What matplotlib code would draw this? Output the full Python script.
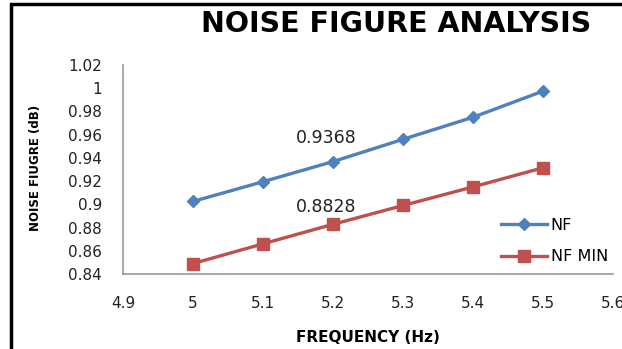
import matplotlib
matplotlib.use("Agg")
import matplotlib.pyplot as plt
from matplotlib.patches import Rectangle

# values
freq = [5.0, 5.1, 5.2, 5.3, 5.4, 5.5]
nf = [0.9025, 0.9195, 0.9368, 0.956, 0.975, 0.9975]
nf_min = [0.849, 0.866, 0.8828, 0.899, 0.915, 0.9315]
x_ticks = [4.9, 5.0, 5.1, 5.2, 5.3, 5.4, 5.5, 5.6]
x_tick_labels = ["4.9", "5", "5.1", "5.2", "5.3", "5.4", "5.5", "5.6"]
y_ticks = [0.84, 0.86, 0.88, 0.90, 0.92, 0.94, 0.96, 0.98, 1.00, 1.02]
y_tick_labels = ["0.84", "0.86", "0.88", "0.9", "0.92", "0.94", "0.96", "0.98", "1", "1.02"]

plt.rcParams['font.family'] = ['DejaVu Sans']

W, H = 622, 349
fig = plt.figure(figsize=(W / 100, H / 100), dpi=100)
ax = fig.add_axes([123 / W, 1 - 274 / H, (613 - 123) / W, (274 - 65) / H])

blue = "#4F81BD"
red = "#C0504D"
ax.plot(freq, nf, color=blue, lw=2.4, marker="D", ms=6.5, label="NF")
ax.plot(freq, nf_min, color=red, lw=2.4, marker="s", ms=8.5, label="NF MIN")

# data labels on the 5.2 points
ax.annotate("0.9368", (freq[2], nf[2]), xytext=(-7, 24), textcoords="offset pixels",
            ha="center", va="center", fontsize=12.5, color="#222222")
ax.annotate("0.8828", (freq[2], nf_min[2]), xytext=(-7, 17), textcoords="offset pixels",
            ha="center", va="center", fontsize=12.5, color="#222222")

ax.set_xlim(4.9, 5.6)
ax.set_ylim(0.84, 1.02)
ax.set_xticks(x_ticks)
ax.set_xticklabels(x_tick_labels)
ax.set_yticks(y_ticks)
ax.set_yticklabels(y_tick_labels)
ax.tick_params(length=0, labelsize=11, colors="#222222")
ax.tick_params(axis="x", pad=16)
ax.tick_params(axis="y", pad=15)

for s in ["top", "right"]:
    ax.spines[s].set_visible(False)
for s in ["left", "bottom"]:
    ax.spines[s].set_color("#999999")
    ax.spines[s].set_linewidth(1.2)

fig.text(368 / W, 1 - 337 / H, "FREQUENCY (Hz)", ha="center", va="center",
         fontsize=11, fontweight="bold")
fig.text(35 / W, 1 - 168 / H, "NOISE FIUGRE (dB)", ha="center", va="center",
         rotation=90, fontsize=8.5, fontweight="bold")

fig.text(396 / W, 1 - 24 / H, "NOISE FIGURE ANALYSIS", ha="center", va="center",
         fontsize=20.5, fontweight="bold")

ax.legend(loc="center left", bbox_to_anchor=(378 / 490, (274 - 241) / 209), frameon=False,
          fontsize=11.5, handlelength=2.9, labelspacing=1.05, handletextpad=0.2,
          borderaxespad=0, borderpad=0)

# black frame around the chart, cut off on the right and bottom
fig.patches.append(Rectangle((11 / W, -0.1), 1.2, 1 - 4 / H + 0.1, transform=fig.transFigure,
                             fill=False, edgecolor="black", lw=2.5))

fig.savefig("out.png", dpi=100)
